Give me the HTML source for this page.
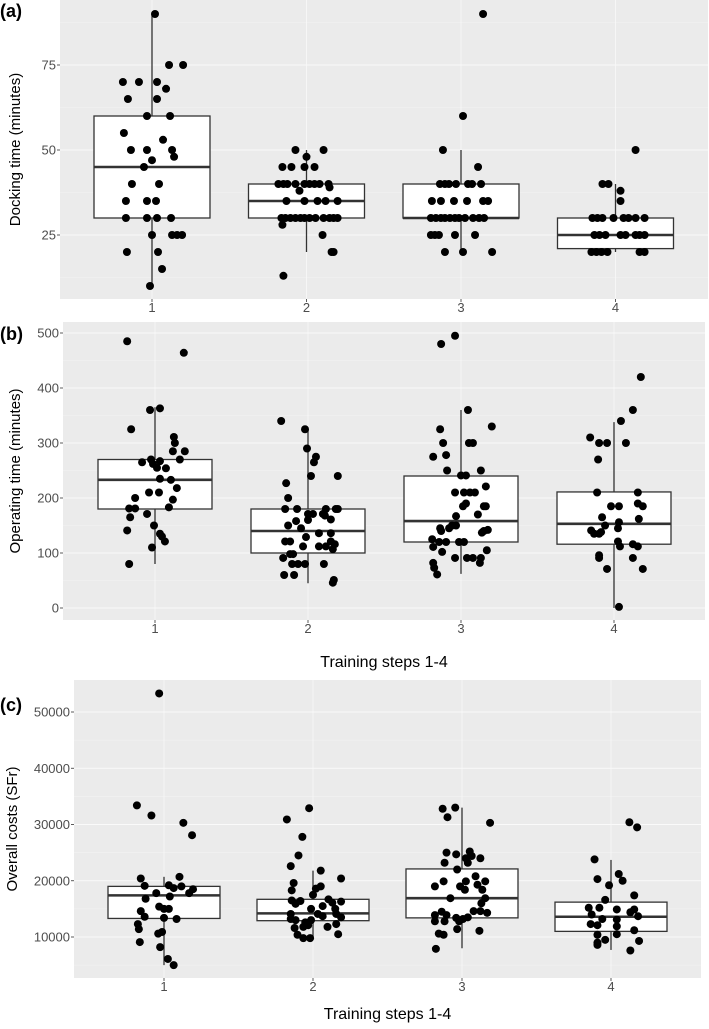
<!DOCTYPE html>
<html><head><meta charset="utf-8">
<style>
html,body{margin:0;padding:0;background:#fff;}
svg{display:block;font-family:"Liberation Sans",Arial,sans-serif;}
</style></head>
<body>
<svg id="fig" width="709" height="1029" viewBox="0 0 709 1029" xmlns="http://www.w3.org/2000/svg"></svg>
<script>
// ---------- data ----------
const categories = ["1","2","3","4"];

// Panel (a) docking time
const aQ1 = [30,30,30,21];
const aMed = [45,35,30,25];
const aQ3 = [60,40,40,30];
const aLo = [10,20,20,20];
const aHi = [90,50,50,40];
const aTicks = [25,50,75];
const aVals = [
 [90,75,75,70,70,70,68,65,65,60,60,55,53,50,50,50,48,47,45,40,40,35,35,35,30,30,30,30,25,25,25,25,20,20,15,10],
 [50,50,48,45,45,45,45,40,40,40,40,40,40,40,40,40,39,38,35,35,35,35,35,30,30,30,30,30,30,30,30,30,30,30,30,28,25,20,20,13],
 [90,60,50,45,40,40,40,40,40,40,40,35,35,35,35,35,35,30,30,30,30,30,30,30,30,30,30,30,25,25,25,25,25,20,20,20],
 [50,40,40,38,35,30,30,30,30,30,30,30,30,25,25,25,25,25,25,25,25,20,20,20,20,20,20]
];
const aJit = [
 [3,17,31,-29,-13,5,14,-24,5,-5,18,-28,11,-21,-5,20,22,0,-8,-20,7,-26,-5,4,-26,-5,5,19,0,20,25,30,-25,6,10,-2],
 [-11,17,0,-24,-15,-2,8,-28,-23,-19,-11,-2,3,8,13,22,23,-7,-20,-2,11,19,31,-25,-21,-16,-11,-6,-2,3,9,17,23,27,31,-24,16,25,27,-23],
 [22,2,-18,17,-21,-16,-12,-5,7,11,20,-29,-20,-7,6,22,27,-30,-25,-20,-16,-11,-6,-2,4,12,18,23,-30,-26,-22,-6,14,-16,2,31],
 [20,-13,-7,5,5,-23,-18,-13,-2,8,13,20,29,-21,-16,-10,5,10,20,24,29,-24,-19,-14,-8,24,29]
];

// Panel (b) operating time
const bQ1 = [180,100,120,116];
const bMed = [233,140,158,153];
const bQ3 = [270,180,240,211];
const bLo = [80,45,62,0];
const bHi = [365,325,360,338];
const bTicks = [0,100,200,300,400,500];
const bVals = [
 [485,464,360,363,325,311,300,285,285,270,270,265,267,262,255,254,235,233,218,210,210,200,197,181,181,183,171,165,150,141,135,130,121,110,80],
 [340,325,290,275,265,240,240,227,200,180,180,180,180,180,171,171,171,168,160,161,158,150,145,136,136,129,121,121,121,116,112,112,112,107,91,98,98,80,80,80,80,60,60,51,46],
 [495,480,360,325,330,300,300,300,275,278,250,241,241,250,221,210,210,210,210,190,185,185,185,170,167,150,150,145,145,140,140,142,137,125,120,120,120,120,111,105,102,91,91,91,91,82,82,73,61],
 [420,360,340,310,300,300,300,270,210,210,190,185,185,185,165,162,150,156,145,141,135,135,138,121,112,116,112,96,91,91,71,71,2]
];
const bJit = [
 [-28,29,-5,5,-24,19,20,18,30,25,-4,-13,5,-2,2,11,5,16,22,-6,4,-20,18,-26,-20,14,-8,-25,-1,-28,5,7,10,-3,-26],
 [-27,-3,-1,8,6,3,30,-22,-20,-23,-11,28,18,30,0,5,15,17,0,23,-12,-20,-7,11,23,-2,-23,-18,23,27,-5,11,18,25,-25,-18,-15,-16,-10,-3,16,-24,-14,26,25],
 [-6,-20,7,-21,31,-18,8,12,-28,-15,-14,0,5,20,25,-6,3,9,14,5,2,23,25,17,-5,-9,-5,-12,-21,-20,23,27,21,-29,-22,-15,-2,3,-28,26,-19,-6,6,12,20,19,-28,-27,-24],
 [27,19,7,-24,-15,-7,12,-16,-17,24,24,29,-3,5,-12,25,-9,5,4,-23,-20,-15,-13,4,6,19,24,-15,-15,19,-7,29,5]
];

// Panel (c) overall costs
const cQ1 = [13300,12900,13400,11000];
const cMed = [17400,14200,16900,13600];
const cQ3 = [19000,16700,22100,16200];
const cLo = [5000,10000,8000,7700];
const cHi = [20700,21800,33000,23700];
const cTicks = [10000,20000,30000,40000,50000];
const cVals = [
 [53300,33400,31600,30300,28100,20400,20700,19100,19200,19000,18700,18500,17800,17800,17200,16800,15400,15000,15000,14600,13600,13400,13200,12300,11400,10900,10600,9100,8200,6100,5000],
 [32900,30900,27800,24500,22600,21800,20400,19600,19000,18600,18300,17500,16500,16400,15900,16700,16100,16300,15500,15000,15000,14100,14100,14100,13200,13000,13000,13700,13500,12600,12100,12300,11600,11800,11800,10400,10500,9800,9800],
 [32800,33000,31300,30300,25000,24700,25200,24400,24000,24000,23200,23200,22000,20800,19900,19900,19900,19000,19000,18400,19300,18400,16900,16900,16000,14600,14600,14300,14500,13900,13900,13500,13200,13400,12800,12800,12800,11400,11100,10600,10400,7900],
 [30400,29500,23800,20300,21200,20000,19200,17400,16600,15200,15200,14900,14900,14400,13700,14000,13200,13100,12100,12300,11900,11200,10500,10400,9000,8600,9500,9300,7600]
];
const cJit = [
 [-5,-28,-13,20,29,-24,16,-20,5,18,10,30,26,-8,6,-19,-5,5,0,-24,-20,0,13,-27,-26,-2,-6,-25,-4,4,10],
 [-4,-27,-11,-15,-23,8,29,-20,8,3,-22,0,-22,-13,-18,16,20,29,10,-2,23,5,24,-23,-23,-18,-2,10,29,-8,-5,24,-19,-10,15,-16,26,-10,-3],
 [-20,-7,-15,29,-16,-6,8,10,4,19,-18,6,-5,14,-19,4,24,-28,-2,3,16,21,24,-12,20,12,19,26,-21,-28,-16,6,1,-6,-28,-18,-3,-5,18,-24,-19,-27],
 [19,27,-17,-14,8,12,-2,24,-6,-23,-12,6,24,20,28,-20,-9,6,-14,-21,6,24,6,-14,-14,-14,-6,29,20]
];

// ---------- drawing ----------
const NS = "http://www.w3.org/2000/svg";
const svg = document.getElementById("fig");
function mk(tag, attrs, parent){
  const e = document.createElementNS(NS, tag);
  for (const k in attrs) e.setAttribute(k, attrs[k]);
  (parent||svg).appendChild(e);
  return e;
}

function panel(cfg){
  const g = mk("g", {});
  
  
  const L=cfg.left,R=cfg.right,T=cfg.top,B=cfg.bottom;
  const y = v => cfg.y0 - (v - cfg.v0) * cfg.k;
  const x = i => cfg.cx0 + i * cfg.step;
  const bg = mk("rect",{x:L,y:T,width:R-L,height:B-T,fill:"#ebebeb"},g);
  
  
  for (let j=0;j<cfg.minor.length;j++){
    const yy=y(cfg.minor[j]); if(yy<T||yy>B) continue;
    mk("line",{x1:L,x2:R,y1:yy,y2:yy,stroke:"#f4f4f4","stroke-width":0.6},g);
  }
  cfg.ticks.forEach(t=>{
    const yy=y(t);
    const gl=mk("line",{x1:L,x2:R,y1:yy,y2:yy,stroke:"#fafafa","stroke-width":1},g);
    
    
    mk("line",{x1:L-3,x2:L,y1:yy,y2:yy,stroke:"#333","stroke-width":0.8},g);
    const tx=mk("text",{x:L-4,y:yy+4.5,"text-anchor":"end","font-size":13,fill:"#4d4d4d"},g);
    tx.textContent=t;
    
    
  });
  categories.forEach((c,i)=>{
    const xx=x(i);
    mk("line",{x1:xx,x2:xx,y1:T,y2:B,stroke:"#f8f8f8","stroke-width":0.9},g);
    mk("line",{x1:xx,x2:xx,y1:B,y2:B+3,stroke:"#333","stroke-width":0.8},g);
    const tx=mk("text",{x:xx,y:B+13,"text-anchor":"middle","font-size":13,fill:"#4d4d4d"},g);
    tx.textContent=c;
    
    
  });
  categories.forEach((c,i)=>{
    const xx=x(i), hw=cfg.hw;
    const wl=mk("line",{x1:xx,x2:xx,y1:y(cfg.hi[i]),y2:y(cfg.lo[i]),stroke:"#333","stroke-width":1.3},g);
    
    
    const bx=mk("rect",{x:xx-hw,y:y(cfg.q3[i]),width:2*hw,height:y(cfg.q1[i])-y(cfg.q3[i]),fill:"#fff",stroke:"#333","stroke-width":1.3},g);
    
    
    const md=mk("line",{x1:xx-hw,x2:xx+hw,y1:y(cfg.med[i]),y2:y(cfg.med[i]),stroke:"#333","stroke-width":2.6},g);
    
    
  });
  cfg.vals.forEach((arr,i)=>{
    arr.forEach((v,j)=>{
      const p=mk("circle",{cx:x(i)+cfg.jit[i][j]*cfg.step/154,cy:y(v),r:4,fill:"#000"},g);
      
      
    });
  });
  const yt=mk("text",{x:0,y:0,"text-anchor":"middle","font-size":15,fill:"#000",transform:`translate(${cfg.ytx},${(T+B)/2}) rotate(-90)`},g);
  yt.textContent=cfg.ytitle;
  
  
  const pl=mk("text",{x:0,y:cfg.lblY,"font-size":18,"font-weight":"bold",fill:"#000"},g);
  pl.textContent=cfg.label;
  
  
  if(cfg.xtitle){
    const xt=mk("text",{x:(L+R)/2,y:cfg.xtY,"text-anchor":"middle","font-size":16,fill:"#000"},g);
    xt.textContent=cfg.xtitle;
    
    
  }
}

panel({name:"panel-a-docking",left:60,right:708,top:0,bottom:299,y0:150,v0:50,k:3.4,cx0:152,step:154.5,hw:58,
  ticks:aTicks,minor:[12.5,37.5,62.5,87.5],q1:aQ1,med:aMed,q3:aQ3,lo:aLo,hi:aHi,vals:aVals,jit:aJit,
  ytitle:"Docking time (minutes)",ytx:20,label:"(a)",lblY:17});
panel({name:"panel-b-operating",left:63,right:705,top:322,bottom:620,y0:608,v0:0,k:0.55,cx0:155,step:153,hw:57,
  ticks:bTicks,minor:[50,150,250,350,450],q1:bQ1,med:bMed,q3:bQ3,lo:bLo,hi:bHi,vals:bVals,jit:bJit,
  ytitle:"Operating time (minutes)",ytx:20,label:"(b)",lblY:340,xtitle:"Training steps 1-4",xtY:667});
panel({name:"panel-c-costs",left:74,right:701,top:680,bottom:978,y0:937,v0:10000,k:0.005625,cx0:164,step:149,hw:56,
  ticks:cTicks,minor:[5000,15000,25000,35000,45000],q1:cQ1,med:cMed,q3:cQ3,lo:cLo,hi:cHi,vals:cVals,jit:cJit,
  ytitle:"Overall costs (SFr)",ytx:17,label:"(c)",lblY:711,xtitle:"Training steps 1-4",xtY:1019});
</script>
</body></html>
